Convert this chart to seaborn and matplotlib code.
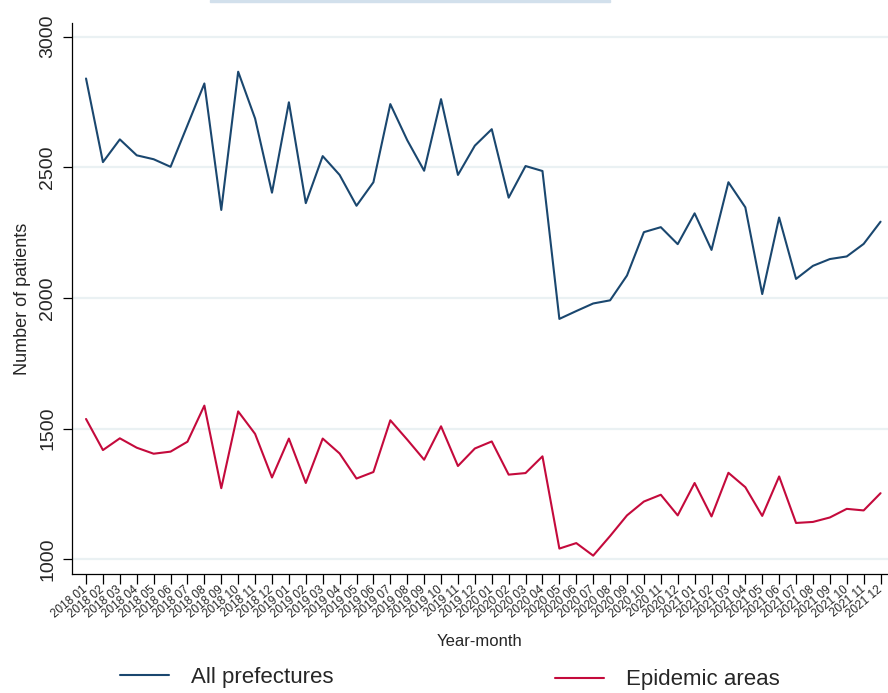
import matplotlib
matplotlib.use("Agg")
import matplotlib.pyplot as plt
from matplotlib.patches import Rectangle
import seaborn as sns
import pandas as pd

# Monthly patient counts, January 2018 to December 2021
years = [2018, 2019, 2020, 2021]
months = list(range(1, 13))
month_labels = [f"{y} {m:02d}" for y in years for m in months]

all_prefectures = [
    2840, 2520, 2607, 2546, 2531, 2502, 2661, 2821, 2337, 2866, 2687, 2403,
    2749, 2363, 2543, 2471, 2353, 2443, 2742, 2604, 2487, 2761, 2471, 2583,
    2646, 2384, 2505, 2486, 1920, 1950, 1979, 1991, 2086, 2252, 2271, 2206,
    2324, 2184, 2443, 2347, 2015, 2308, 2073, 2123, 2149, 2159, 2207, 2292,
]
epidemic_areas = [
    1537, 1418, 1463, 1427, 1404, 1412, 1450, 1588, 1272, 1566, 1480, 1313,
    1462, 1292, 1462, 1405, 1309, 1334, 1532, 1458, 1381, 1509, 1357, 1424,
    1451, 1324, 1330, 1394, 1041, 1062, 1014, 1089, 1168, 1221, 1247, 1168,
    1292, 1164, 1331, 1276, 1166, 1317, 1139, 1143, 1160, 1193, 1187, 1253,
]
series_names = ["All prefectures", "Epidemic areas"]
series_colors = ["#1a476f", "#c40a3c"]
y_ticks = [1000, 1500, 2000, 2500, 3000]

df = pd.DataFrame({
    "idx": list(range(len(month_labels))) * 2,
    "patients": all_prefectures + epidemic_areas,
    "series": [series_names[0]] * len(all_prefectures) + [series_names[1]] * len(epidemic_areas),
})

sns.set_theme(style="white")
plt.rcParams["font.family"] = ["Liberation Sans", "DejaVu Sans"]

fig = plt.figure(figsize=(8.88, 6.93), dpi=100)
ax = fig.add_axes([72 / 888, 1 - 574 / 693, 1 - 72 / 888, (574 - 23) / 693])

# light horizontal grid behind the lines
for v in y_ticks:
    ax.axhline(v, color="#eaf1f3", lw=1.6, zorder=0)

sns.lineplot(data=df, x="idx", y="patients", hue="series",
             palette=dict(zip(series_names, series_colors)),
             linewidth=1.5, ax=ax, legend=False, zorder=3)

ax.set_xlim(-0.83, 47.44)
ax.set_ylim(943.7, 3052.4)

ax.set_xticks(range(len(month_labels)))
ax.set_xticklabels(month_labels, rotation=40, ha="right", va="center",
                   rotation_mode="anchor", fontsize=8.5)
ax.set_yticks(y_ticks)
ax.set_yticklabels([str(v) for v in y_ticks], rotation=90, va="center", fontsize=14)

ax.tick_params(axis="x", direction="out", length=7, width=0.9, color="black", pad=3, bottom=True)
ax.tick_params(axis="y", direction="out", length=6.5, width=0.9, color="black", pad=5, left=True)

for side in ["top", "right"]:
    ax.spines[side].set_visible(False)
for side in ["left", "bottom"]:
    ax.spines[side].set_visible(True)
    ax.spines[side].set_color("black")
    ax.spines[side].set_linewidth(0.9)

ax.grid(False)
ax.set_xlabel("Year-month", fontsize=12, labelpad=10)
ax.set_ylabel("Number of patients", fontsize=13, labelpad=6)

# legend entries laid out in two separate blocks below the axis
lines = ax.get_lines()
data_lines = [l for l in lines if len(l.get_xdata()) > 2]
for line, name, pos in zip(data_lines, series_names,
                           [(120 / 888, 1 - 677 / 693), (555 / 888, 1 - 680 / 693)]):
    fig.legend([line], [name], loc="center left", bbox_to_anchor=pos,
               frameon=False, fontsize=16, handlelength=2.2, handletextpad=1.0,
               borderpad=0, borderaxespad=0)

# thin light-blue band at the top edge
fig.patches.append(Rectangle((210 / 888, 1 - 2 / 693), 400 / 888, 2 / 693,
                             transform=fig.transFigure, color="#d2e0ec", zorder=0))

fig.savefig("out.png", dpi=100)
